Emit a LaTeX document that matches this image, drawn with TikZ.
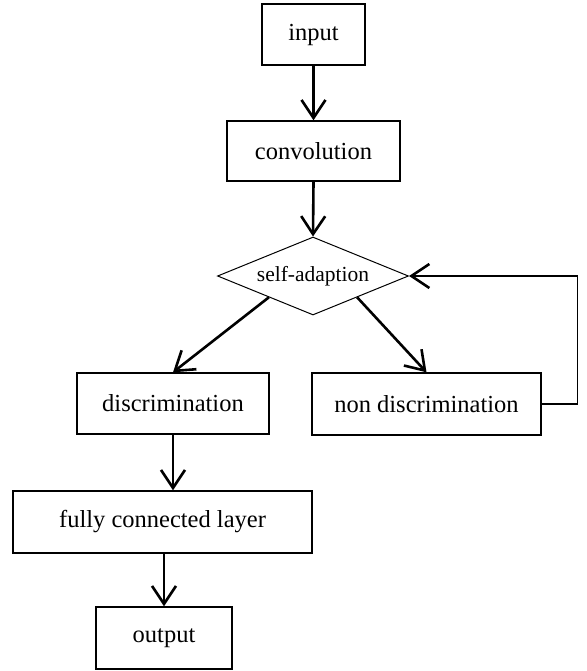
\documentclass[tikz,border=0pt]{standalone}
\usepackage{fontspec}
\setmainfont{Liberation Serif}
\usetikzlibrary{shapes.geometric,arrows.meta,calc}

\begin{document}
\begin{tikzpicture}[x=1pt,y=-1pt,
		box/.style={draw,line width=1.4pt,inner sep=0pt,font=\fontsize{24.5}{28}\selectfont},
		decide/.style={draw,diamond,aspect=2.45,line width=1pt,inner sep=0pt,font=\fontsize{21.5}{25}\selectfont},
		arr/.style={line width=2.6pt,-{Straight Barb[length=18pt,width=24pt,line width=2.6pt]}},
		back/.style={line width=1.2pt,-{Straight Barb[length=18pt,width=24pt,line width=2.6pt]}}]
		\useasboundingbox (0,0) rectangle (586,671);
		
		\node[box,minimum width=103pt,minimum height=61pt] (in) at (313.5,34.5) {input};
		\node[box,minimum width=173pt,minimum height=60pt] (conv) at (313.5,151) {convolution};
		\node[decide,minimum width=191pt,minimum height=78pt] (adapt) at (313,276) {self-adaption};
		
		\node[box,minimum width=192pt,minimum height=61pt] (disc) at (173,403.5) {discrimination};
		\node[box,minimum width=229pt,minimum height=62pt] (nondisc) at (426.5,404) {non discrimination};
		
		\node[box,minimum width=299pt,minimum height=62pt] (fc) at (162.5,522) {fully connected layer};
		\node[box,minimum width=136pt,minimum height=62pt] (out) at (164,638) {output};
		
		\draw[arr] (in.south) -- (conv.north);
		\draw[arr] (conv.south) -- (adapt.north);
		\draw[arr] ($(adapt.west)!0.54!(adapt.south)$) -- (disc.north);
		\draw[arr] ($(adapt.south)!0.46!(adapt.east)$) -- (nondisc.north);
		\draw[back] (nondisc.east) -- ++(36,0) |- (adapt.east);
		
		\draw[arr] (disc.south) -- (disc.south |- fc.north);
		\draw[arr] (out.north |- fc.south) -- (out.north);
	\end{tikzpicture}
\end{document}
